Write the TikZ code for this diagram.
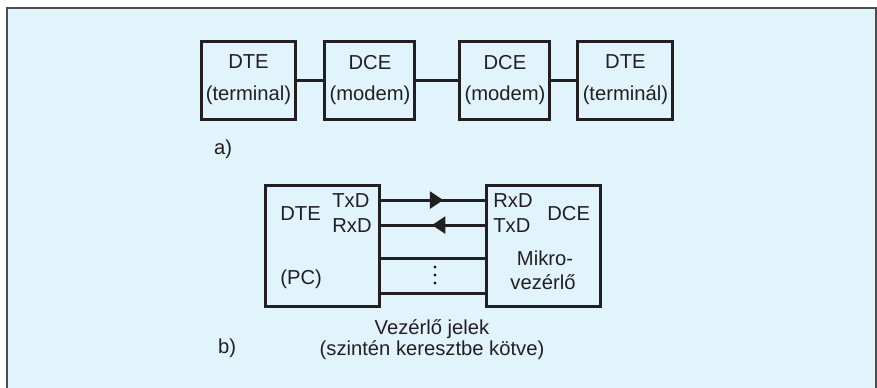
\documentclass[tikz,border=0pt]{standalone}
\usepackage{fontspec}
\setmainfont{Liberation Sans}
\usepackage{xcolor}
\usetikzlibrary{positioning, arrows.meta, decorations.markings}
\definecolor{bgBlue}{HTML}{E1F3FB}
\definecolor{frameGray}{HTML}{4D4D4F}
\definecolor{inkBlack}{HTML}{231F20}

\tikzset{
  unitbox/.style={draw=inkBlack, line width=0.06cm, minimum height=1.56cm, inner sep=0pt,
    align=center, text=inkBlack, font=\fontsize{11.5}{18.1}\selectfont},
  devbox/.style={draw=inkBlack, line width=0.06cm, minimum width=2.3cm, minimum height=2.44cm, inner sep=0pt},
  sigline/.style={draw=inkBlack, line width=0.06cm},
  midtip/.style={postaction={decorate}, decoration={markings,
    mark=at position #1 with {\arrow{Triangle[length=0.27cm,width=0.34cm]}}}},
  lbl/.style={inner sep=0pt, text=inkBlack, font=\fontsize{11.5}{13}\selectfont}
}

\begin{document}
\begin{tikzpicture}[x=0.02cm, y=-0.02cm]
  \useasboundingbox (0,0) rectangle (877,387);
  % Background panel
  \fill[bgBlue] (7,8) rectangle (880,390);
  \draw[frameGray, line width=0.035cm] (7,390) -- (7,8) -- (876,8) -- (876,390);
  % a) terminal -- modem -- modem -- terminal
  \node[unitbox, minimum width=1.9cm] (dteA) at (248.5,80) {DTE\\(terminal)};
  \node[unitbox, minimum width=1.8cm, right=0.52cm of dteA] (dceA) {DCE\\(modem)};
  \node[unitbox, minimum width=1.8cm, right=0.84cm of dceA] (dceC) {DCE\\(modem)};
  \node[unitbox, minimum width=1.9cm, right=0.5cm of dceC] (dteC) {DTE\\(terminál)};
  \draw[sigline] (dteA) -- (dceA);
  \draw[sigline] (dceA) -- (dceC);
  \draw[sigline] (dceC) -- (dteC);
  \node[lbl, anchor=base] (labA) at (223,154) {a)};
  % b) PC -- microcontroller
  \node[devbox] (dteB) at (322.5,246) {};
  \node[devbox] (dceB) at (543.5,246) {};
  \node[lbl, anchor=base west] (dteName) at (280,220) {DTE};
  \node[lbl, anchor=base west] (txdL) at (332,207) {TxD};
  \node[lbl, anchor=base west] (rxdL) at (332,232) {RxD};
  \node[lbl, anchor=base west] (pcName) at (280,284) {(PC)};
  \node[lbl, anchor=base west] (rxdR) at (493,207) {RxD};
  \node[lbl, anchor=base west] (txdR) at (493,232) {TxD};
  \node[lbl, anchor=base west] (dceName) at (547,220) {DCE};
  \node[lbl, anchor=base] (mcuA) at (545,265) {Mikro-};
  \node[lbl, anchor=base] (mcuB) at (543,289) {vezérlő};
  % Data lines (crossed)
  \draw[sigline, midtip=0.6] (dteB.east |- txdL) -- (dceB.west |- rxdR);
  \draw[sigline, midtip=0.51] (dceB.west |- txdR) -- (dteB.east |- rxdL);
  % Control lines
  \foreach \y in {258, 293} {
    \draw[sigline] (dteB.east |- 0,\y) -- (dceB.west |- 0,\y);
  }
  \foreach \y in {267, 275, 283} {
    \fill[inkBlack] (435,\y) circle (0.032cm);
  }
  \node[lbl, anchor=base] (ctlA) at (432,334) {Vezérlő jelek};
  \node[lbl, anchor=base] (ctlB) at (432,355) {(szintén keresztbe kötve)};
  \node[lbl, anchor=base] (labB) at (227,353) {b)};
\end{tikzpicture}
\end{document}
